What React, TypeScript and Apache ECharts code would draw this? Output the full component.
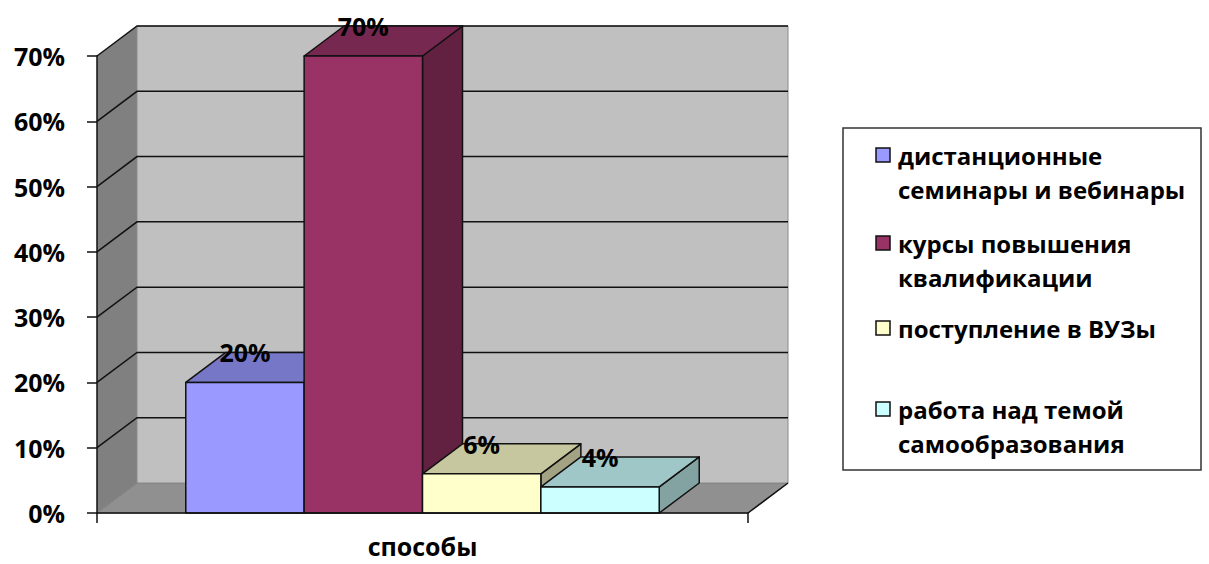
import React, { useEffect, useRef } from 'react';
import * as echarts from 'echarts';

// Survey data: ways of professional development (share of respondents, %)
const categories = ['способы'];
const methodNames = [
  'дистанционные\nсеминары и вебинары',
  'курсы повышения\nквалификации',
  'поступление в ВУЗы',
  'работа над темой\nсамообразования',
];
const shares = [20, 70, 6, 4];
const faceColors = ['#9999ff', '#993366', '#ffffcc', '#ccffff'];

const yMin = 0;
const yMax = 70;
const yStep = 10;

const FONT = '"Open Sans", "Noto Sans", sans-serif';
const FONT_SIZE = 25;
const LEGEND_FONT_SIZE = 24;

// depth of the pseudo-3D box (pixels back and up)
const DX = 40;
const DY = -30;

function shade(hex: string, k: number): string {
  const n = parseInt(hex.slice(1), 16);
  const r = Math.round(((n >> 16) & 255) * k);
  const g = Math.round(((n >> 8) & 255) * k);
  const b = Math.round((n & 255) * k);
  return `rgb(${r},${g},${b})`;
}

function wallsRenderItem(params: any, api: any) {
  const cs = params.coordSys;
  const x0 = cs.x;
  const x1 = cs.x + cs.width;
  const yb = api.coord([0, yMin])[1];
  const yt = api.coord([0, yMax])[1];
  const children: any[] = [];
  // floor
  children.push({
    type: 'polygon',
    shape: { points: [[x0, yb], [x1, yb], [x1 + DX, yb + DY], [x0 + DX, yb + DY]] },
    style: { fill: '#909090', stroke: '#7a7a7a', lineWidth: 1 },
  });
  // left side wall
  children.push({
    type: 'polygon',
    shape: { points: [[x0, yb], [x0, yt], [x0 + DX, yt + DY], [x0 + DX, yb + DY]] },
    style: { fill: '#808080' },
  });
  // back wall
  children.push({
    type: 'rect',
    shape: { x: x0 + DX, y: yt + DY, width: cs.width, height: yb - yt },
    style: { fill: '#c0c0c0', stroke: '#8a8a8a', lineWidth: 1 },
  });
  // gridlines running over the side wall and the back wall
  for (let v = yMin + yStep; v <= yMax; v += yStep) {
    const y = api.coord([0, v])[1];
    children.push({
      type: 'polyline',
      shape: { points: [[x0, y], [x0 + DX, y + DY], [x1 + DX, y + DY]] },
      style: { stroke: '#111', lineWidth: 1.5, fill: null },
    });
  }
  // right edge of the floor
  children.push({
    type: 'line',
    shape: { x1: x1, y1: yb, x2: x1 + DX, y2: yb + DY },
    style: { stroke: '#111', lineWidth: 1.5 },
  });
  return { type: 'group', children };
}

function makeBarRenderItem(idx: number) {
  return (params: any, api: any) => {
    const cat = api.value(0);
    const v = api.value(1);
    const top = api.coord([cat, v]);
    const base = api.coord([cat, 0]);
    const band = api.size([1, 0])[0];
    const n = shares.length;
    const w = band / (n + 1.5);
    const left = top[0] - (n * w) / 2 + idx * w;
    const right = left + w;
    const yTop = top[1];
    const yBase = base[1];
    const color = faceColors[idx];
    const edge = { stroke: '#111', lineWidth: 1.5, lineJoin: 'round' };
    return {
      type: 'group',
      children: [
        {
          type: 'polygon',
          shape: { points: [[right, yTop], [right + DX, yTop + DY], [right + DX, yBase + DY], [right, yBase]] },
          style: { fill: shade(color, 0.64), ...edge },
        },
        {
          type: 'polygon',
          shape: { points: [[left, yTop], [right, yTop], [right + DX, yTop + DY], [left + DX, yTop + DY]] },
          style: { fill: shade(color, 0.78), ...edge },
        },
        {
          type: 'rect',
          shape: { x: left, y: yTop, width: w, height: yBase - yTop },
          style: { fill: color, ...edge },
        },
        {
          type: 'text',
          z2: 50,
          style: {
            x: (left + right) / 2,
            y: yTop + DY,
            text: `${v}%`,
            align: 'center',
            verticalAlign: 'middle',
            fill: '#000',
            font: `bold ${FONT_SIZE}px ${FONT}`,
          },
        },
      ],
    };
  };
}

// legend row centres (first text line of each entry)
const legendRowY = [155, 243, 328, 409];

function buildLegend(): any[] {
  const els: any[] = [
    {
      type: 'rect',
      shape: { x: 843, y: 128, width: 358, height: 342 },
      style: { fill: '#fff', stroke: '#333', lineWidth: 1.5 },
    },
  ];
  methodNames.forEach((name, i) => {
    const cy = legendRowY[i];
    els.push({
      type: 'rect',
      shape: { x: 876, y: cy - 7, width: 14, height: 14 },
      style: { fill: faceColors[i], stroke: '#111', lineWidth: 1.5 },
    });
    name.split('\n').forEach((line, j) => {
      els.push({
        type: 'text',
        x: 898,
        y: cy + j * 34,
        style: {
          text: line,
          fill: '#000',
          font: `bold ${LEGEND_FONT_SIZE}px ${FONT}`,
          verticalAlign: 'middle',
          align: 'left',
        },
      });
    });
  });
  return els;
}

export default function App() {
  const ref = useRef<HTMLDivElement>(null);

  useEffect(() => {
    if (!ref.current) return;
    const chart = echarts.init(ref.current, undefined, { renderer: 'svg' });
    const series: any[] = [
      {
        type: 'custom',
        name: 'walls',
        z: 1,
        silent: true,
        renderItem: wallsRenderItem,
        data: [[0, 0]],
      },
      ...methodNames.map((name, i) => ({
        type: 'custom',
        name,
        z: 2 + i,
        renderItem: makeBarRenderItem(i),
        data: [[0, shares[i]]],
      })),
    ];
    chart.setOption({
      animation: false,
      backgroundColor: '#fff',
      grid: { left: 97, right: 461, top: 56, bottom: 51 },
      xAxis: {
        type: 'category',
        data: categories,
        boundaryGap: true,
        z: 10,
        axisLine: { lineStyle: { color: '#111', width: 1.5 } },
        axisTick: { show: true, length: 10, lineStyle: { color: '#111', width: 1.5 } },
        axisLabel: {
          margin: 20,
          color: '#000',
          fontWeight: 'bold',
          fontSize: FONT_SIZE,
          lineHeight: 26,
          fontFamily: FONT,
        },
        splitLine: { show: false },
      },
      yAxis: {
        type: 'value',
        min: yMin,
        max: yMax,
        interval: yStep,
        z: 10,
        axisLine: { show: true, lineStyle: { color: '#111', width: 1.5 } },
        axisTick: { show: true, length: 10, lineStyle: { color: '#111', width: 1.5 } },
        axisLabel: {
          formatter: '{value}%',
          margin: 32,
          color: '#000',
          fontWeight: 'bold',
          fontSize: FONT_SIZE,
          fontFamily: FONT,
        },
        splitLine: { show: false },
      },
      graphic: buildLegend(),
      series,
    });
    return () => chart.dispose();
  }, []);

  return (
    <div
      ref={ref}
      style={{ position: 'fixed', left: 0, top: 0, width: 1209, height: 564, background: '#fff' }}
    />
  );
}
